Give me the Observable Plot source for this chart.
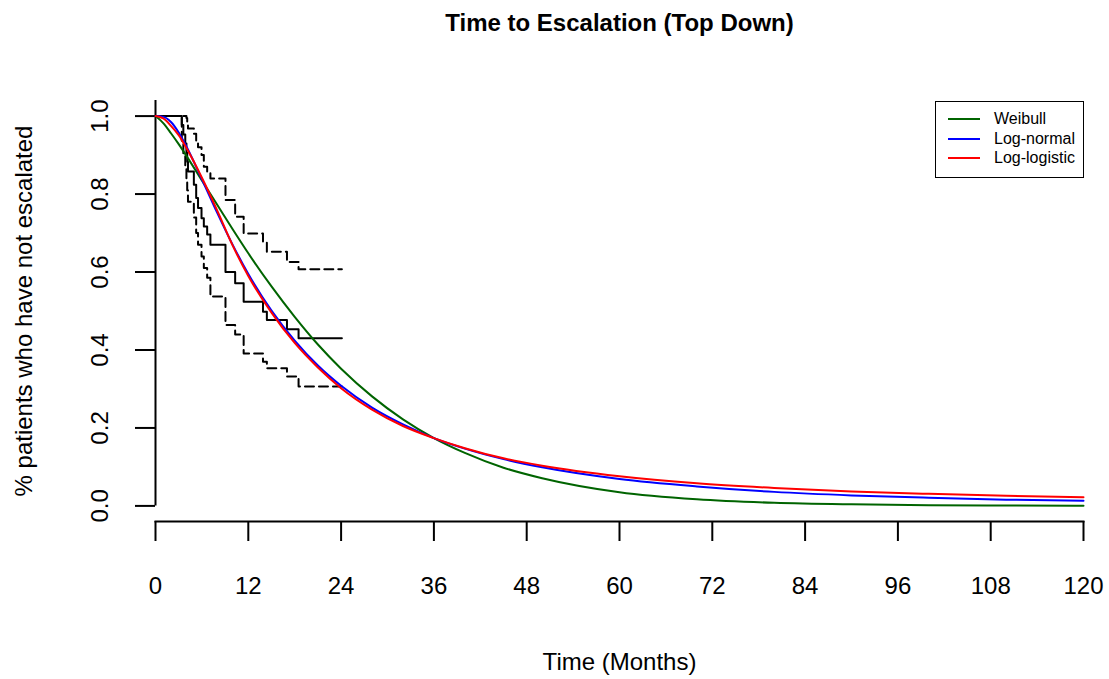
<!DOCTYPE html>
<html>
<head>
<meta charset="utf-8">
<script src="https://cdn.jsdelivr.net/npm/d3@7"></script>
<script src="https://cdn.jsdelivr.net/npm/@observablehq/plot@0.6"></script>
<style>
  html, body { margin: 0; padding: 0; background: #fff; }
  #wrap { position: relative; width: 1109px; height: 679px; background: #fff; font-family: "Liberation Sans", Arial, sans-serif; }
  #title { box-sizing: border-box; height: 50px; padding-top: 11px; padding-left: 130px; width: 1109px; text-align: center; font-weight: bold; font-size: 24px; line-height: 24px; color: #000; }
  #legend { position: absolute; left: 935px; top: 101px; width: 149px; height: 77px; box-sizing: border-box; border: 1px solid #000; background: #fff; }
  #legend .row { position: absolute; left: 12px; height: 20px; display: flex; align-items: center; font-size: 16px; color: #000; white-space: nowrap; }
  #legend .sw { display: inline-block; width: 32px; height: 2px; margin-right: 14px; }
</style>
</head>
<body>
<div id="wrap">
  <div id="title">Time to Escalation (Top Down)</div>
  <div id="chart"></div>
  <div id="legend"></div>
</div>
<script>
// ---- Data ----
const title = "Time to Escalation (Top Down)";
const xLabel = "Time (Months)";
const yLabel = "% patients who have not escalated";
const xTicks = [0, 12, 24, 36, 48, 60, 72, 84, 96, 108, 120];
const yTicks = [0, 0.2, 0.4, 0.6, 0.8, 1.0];
const xDomain = [0, 120];
const yDomain = [-0.04, 1.04];

// Kaplan-Meier estimate with confidence band (step curves)
const kmTime  = [0, 3.4, 3.6, 3.85, 4.0, 4.1, 4.2, 4.96, 5.26, 5.5, 5.95, 6.25, 6.68, 7.1, 9.05, 10.3, 11.4, 13.9, 14.4, 17.0, 18.5, 24.1];
const kmSurv  = [1, 0.977, 0.953, 0.93, 0.906, 0.883, 0.858, 0.824, 0.79, 0.764, 0.738, 0.717, 0.696, 0.67, 0.60, 0.571, 0.524, 0.498, 0.477, 0.453, 0.430, 0.430];
const kmUpper = [1, 1, 1, 1, 0.995, 0.985, 0.968, 0.955, 0.93, 0.92, 0.90, 0.87, 0.855, 0.84, 0.785, 0.742, 0.699, 0.675, 0.652, 0.626, 0.607, 0.607];
const kmLower = [1, 0.93, 0.90, 0.87, 0.84, 0.81, 0.78, 0.74, 0.70, 0.67, 0.64, 0.61, 0.585, 0.537, 0.464, 0.44, 0.391, 0.37, 0.353, 0.332, 0.306, 0.306];

// Fitted parametric survival curves
const fitTime     = [0, 1, 2, 3, 4, 6, 8, 10, 12, 15, 18, 21, 24, 28, 32, 36, 40, 45, 50, 60, 70, 80, 90, 100, 110, 120];
const weibull     = [1, 0.982, 0.956, 0.928, 0.898, 0.835, 0.772, 0.709, 0.648, 0.563, 0.485, 0.414, 0.352, 0.281, 0.222, 0.174, 0.136, 0.098, 0.071, 0.035, 0.017, 0.008, 0.004, 0.002, 0.001, 0.0003];
const lognormal   = [1, 0.998, 0.985, 0.958, 0.922, 0.838, 0.751, 0.669, 0.595, 0.501, 0.424, 0.360, 0.308, 0.252, 0.209, 0.174, 0.147, 0.120, 0.099, 0.069, 0.050, 0.036, 0.027, 0.021, 0.016, 0.013];
const loglogistic = [1, 0.994, 0.975, 0.951, 0.918, 0.842, 0.757, 0.667, 0.590, 0.496, 0.418, 0.355, 0.302, 0.247, 0.205, 0.174, 0.148, 0.122, 0.103, 0.076, 0.058, 0.046, 0.037, 0.031, 0.026, 0.022];

const seriesNames  = ["Weibull", "Log-normal", "Log-logistic"];
const seriesValues = [weibull, lognormal, loglogistic];
const seriesColors = ["#006400", "#0000ff", "#ff0000"];

// ---- Build tables ----
const km = kmTime.map((t, i) => ({t, s: kmSurv[i], hi: kmUpper[i], lo: kmLower[i]}));
const fits = seriesNames.flatMap((name, j) =>
  fitTime.map((t, i) => ({name, t, s: seriesValues[j][i]})));

const chart = Plot.plot({
  width: 1109,
  height: 629,
  marginLeft: 155,
  marginRight: 26,
  marginTop: 50,
  marginBottom: 158,
  style: {fontFamily: "'Liberation Sans', Arial, sans-serif", fontSize: "24px", color: "#000", background: "#fff", overflow: "visible"},
  x: {domain: xDomain},
  y: {domain: yDomain},
  color: {domain: seriesNames, range: seriesColors},
  marks: [
    // axes lines
    Plot.frame({anchor: "bottom", strokeWidth: 2}),
    Plot.ruleX([xDomain[0]], {y1: 0, y2: yDomain[1], strokeWidth: 2}),
    Plot.axisX({ticks: xTicks, tickSize: 20, tickPadding: 35, tickFormat: d => String(d), label: null, strokeWidth: 2}),
    Plot.axisY({ticks: yTicks, tickSize: 20, tickFormat: () => "", label: null, strokeWidth: 2}),
    Plot.text(yTicks, {y: d => d, frameAnchor: "left", dx: -55, rotate: -90, text: d => d.toFixed(1), fontSize: 24, textAnchor: "middle", lineAnchor: "middle"}),
    Plot.text([xLabel], {frameAnchor: "bottom", dy: 141, textAnchor: "middle", lineAnchor: "middle", fontSize: 24}),
    Plot.text([yLabel], {frameAnchor: "left", dx: -131, rotate: -90, textAnchor: "middle", lineAnchor: "middle", fontSize: 24}),
    // KM
    Plot.line(km, {x: "t", y: "hi", curve: "step-after", stroke: "#000", strokeWidth: 2, strokeDasharray: "9,5"}),
    Plot.line(km, {x: "t", y: "lo", curve: "step-after", stroke: "#000", strokeWidth: 2, strokeDasharray: "9,5"}),
    Plot.line(km, {x: "t", y: "s", curve: "step-after", stroke: "#000", strokeWidth: 2}),
    // fitted curves
    Plot.line(fits, {x: "t", y: "s", z: "name", stroke: "name", curve: "monotone-x", strokeWidth: 2})
  ]
});
document.getElementById("chart").appendChild(chart);

// legend
const legend = document.getElementById("legend");
seriesNames.forEach((name, i) => {
  const row = document.createElement("div");
  row.className = "row";
  row.style.top = (7 + i * 19.5) + "px";
  const sw = document.createElement("span");
  sw.className = "sw";
  sw.style.background = seriesColors[i];
  const lab = document.createElement("span");
  lab.textContent = name;
  row.appendChild(sw);
  row.appendChild(lab);
  legend.appendChild(row);
});
document.getElementById("title").textContent = title;
</script>
</body>
</html>
